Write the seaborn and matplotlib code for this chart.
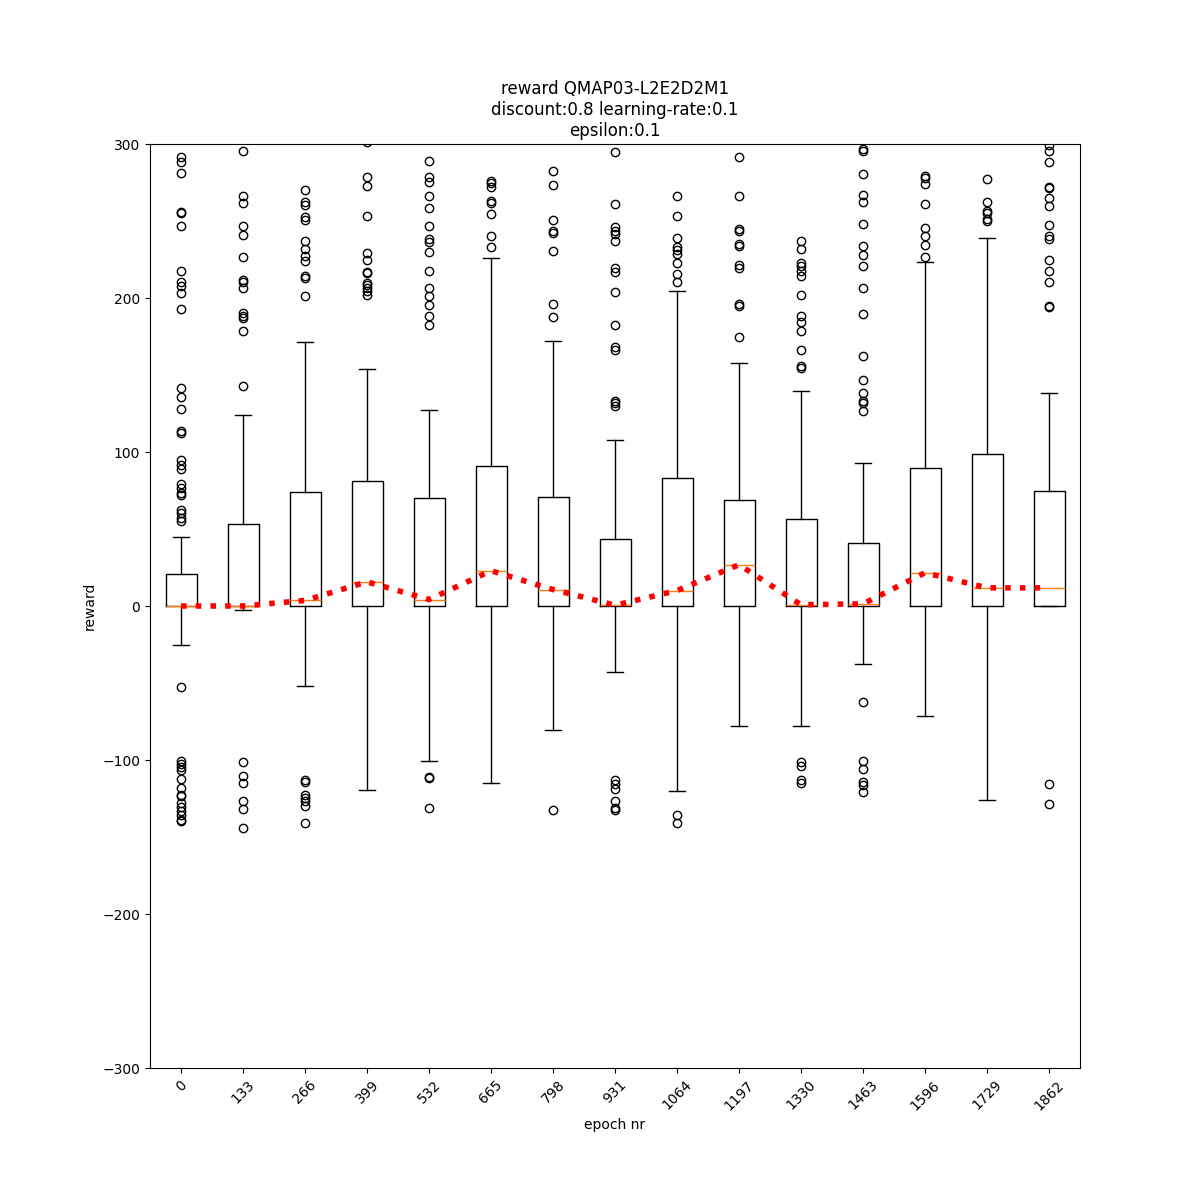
import seaborn as sns
import pandas as pd
import matplotlib.pyplot as plt

epochs = [0, 133, 266, 399, 532, 665, 798, 931, 1064, 1197, 1330, 1463, 1596, 1729, 1862]

q1 = [0, 0, 0, 0, 0, 0, 0, 0, 0, 0, 0, 0, 0, 0, 0]
med = [0, 0, 3.6, 15.7, 4.2, 22.9, 10.7, 0.5, 10, 26.8, 0.8, 1.4, 21.6, 11.8, 11.8]
q3 = [20.9, 53, 74.2, 81, 70.3, 90.9, 71, 43.7, 83.3, 68.8, 56.7, 41.1, 89.8, 98.5, 74.6]
whislo = [-25.2, -2.3, -51.9, -119.7, -100.9, -115, -80.3, -42.8, -120, -77.9, -77.9, -37.6, -71.4, -125.8, 0]
whishi = [45, 123.9, 171.3, 153.8, 127.3, 225.9, 171.8, 107.8, 204.3, 158.1, 139.7, 92.6, 223.1, 238.9, 138.6]

fliers = [
    [291.4, 288.6, 281.2, 256, 255.2, 246.7, 217.7, 210.5, 207.9, 203.2, 192.8, 141.4, 136, 128.2,
     113.5, 112.6, 94.8, 91.5, 88.7, 79, 76.8, 73.6, 71.8, 62.3, 60.1, 57.3, 55.1,
     -52.5, -100.9, -102.4, -104.5, -106.7, -112.4, -118.2, -122.6, -123.6, -128, -130.6,
     -133.4, -136, -138.8, -139.9],
    [295.7, 266.4, 261.7, 246.9, 240.9, 226.4, 211.6, 210.1, 206.4, 190, 188.4, 187.1, 178.3, 142.9,
     -101.3, -110.6, -115, -126.7, -131.9, -144.2],
    [270.1, 262.1, 260.6, 252.4, 250.8, 237.2, 231.8, 227.4, 224.2, 214, 212.7, 201.4,
     -112.8, -114.6, -122.6, -124.7, -126.9, -129.7, -141],
    [301, 278.8, 273, 253, 229, 224.9, 217, 216, 210, 208.4, 206.4, 204.3, 202.1],
    [288.8, 278.4, 275.5, 266, 258.4, 246.9, 238.3, 236.5, 229.6, 217.3, 206.4, 201.4, 195.6, 188.4,
     182.6, -111, -111.7, -131.2],
    [276.2, 274.7, 272.3, 263, 261.5, 254.5, 240.4, 232.9],
    [282.3, 273.4, 250.6, 243.3, 242, 230.3, 196, 187.4, -132.3],
    [294.6, 260.8, 245.9, 243.7, 241.5, 237.2, 219.2, 217, 204, 182.6, 168.5, 166.3, 133.2, 131.7,
     129.9, -112.8, -115.6, -118.8, -126.9, -131.2, -132.7],
    [266, 253, 238.7, 233.3, 231.1, 228.5, 222.5, 215.5, 210.5, -135.5, -141],
    [291.4, 266.4, 244.8, 243.7, 235, 233.9, 221.4, 219.2, 196, 194.9, 175],
    [237.2, 231.8, 222.5, 220.9, 217.7, 214.4, 202.1, 188, 184.5, 178.3, 166.1, 155.9, 154.4,
     -101.5, -104.1, -112.8, -115],
    [296.8, 295.3, 280.6, 266.9, 262.1, 248, 233.9, 227.9, 220.5, 206.8, 189.5, 162.4, 146.8, 138.6,
     132.8, 132.1, 126.3, -62.3, -100.5, -105.9, -114.6, -116.1, -120.8],
    [279.4, 277.7, 274, 261, 245.2, 240.4, 234.4, 226.8],
    [277.3, 262.1, 256.7, 255.2, 251.3, 250.2],
    [299.4, 295.7, 288.1, 272.3, 271.2, 264.7, 259.9, 247.4, 240.4, 238.3, 224.8, 217.7, 210.5,
     194.9, 194.3, -115.4, -128.4],
]

stats = []
for i in range(len(epochs)):
    stats.append({"label": str(epochs[i]), "q1": q1[i], "med": med[i], "q3": q3[i],
                  "whislo": whislo[i], "whishi": whishi[i], "fliers": fliers[i]})

pos = list(range(1, len(epochs) + 1))
df = pd.DataFrame({"pos": pos, "median": med})

fig, ax = plt.subplots(figsize=(12, 12), dpi=100)
ax.bxp(stats, positions=pos, widths=0.5)
sns.lineplot(data=df, x="pos", y="median", ax=ax, color="red", linestyle=":", linewidth=4, zorder=5)

ax.set_xlim(0.5, len(epochs) + 0.5)
ax.set_ylim(-300, 300)
ax.set_xticks(pos)
ax.set_xticklabels([str(e) for e in epochs], rotation=45)
ax.set_xlabel("epoch nr")
ax.set_ylabel("reward")
ax.set_title("reward QMAP03-L2E2D2M1\ndiscount:0.8 learning-rate:0.1\nepsilon:0.1")

plt.savefig("out.png")
